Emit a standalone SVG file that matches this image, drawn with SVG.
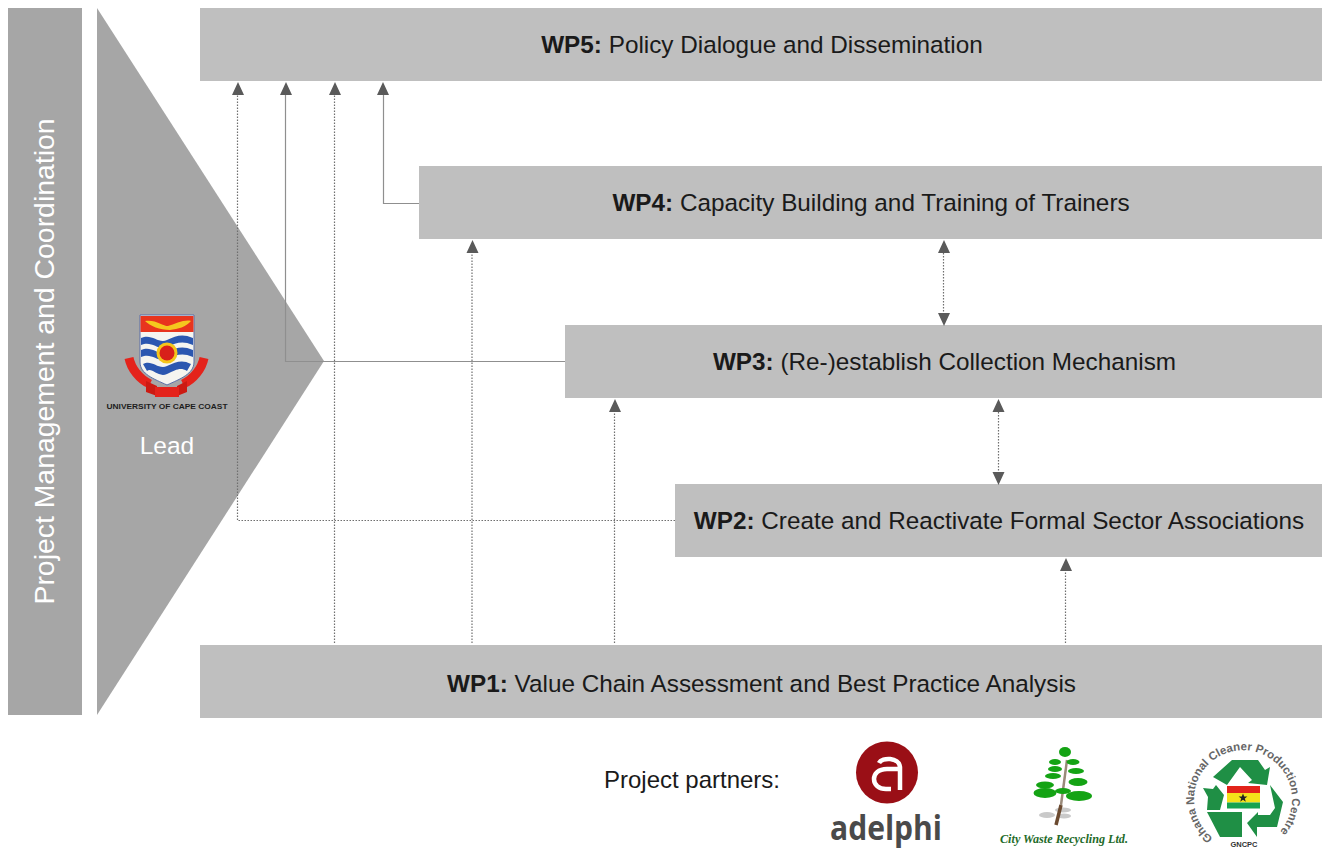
<svg xmlns="http://www.w3.org/2000/svg" width="1323" height="848" viewBox="0 0 1323 848">
<style>
text{font-family:"Liberation Sans",Arial,sans-serif}
.wp{fill:#bfbfbf}
.lbl{font-size:24.300px;fill:#1a1a1a;text-anchor:middle}
.lbl tspan{font-weight:bold}
.c{fill:none;stroke:#8f8f8f;stroke-width:1.200}
.d{fill:none;stroke:#6f6f6f;stroke-width:1.200;stroke-dasharray:1.500 1.500}
</style>
<g id="pm"><rect x="8" y="8" width="74" height="707" fill="#a6a6a6"/><text transform="translate(54,361.500) rotate(-90)" text-anchor="middle" font-size="28.400" fill="#fff">Project Management and Coordination</text></g>
<g id="lead"><path d="M97 8L324 361L97 715Z" fill="#a6a6a6"/>
<g id="ucc-logo">
<path d="M129 358C131 368 139 379 150 384" fill="none" stroke="#e4231b" stroke-width="9"/>
<path d="M204 358C202 368 194 379 183 384" fill="none" stroke="#e4231b" stroke-width="9"/>
<path d="M146 381L157 386V396L146 392ZM187 381L177 386V396L187 392Z" fill="#cc1a12"/>
<rect x="155" y="387" width="24" height="10" fill="#e4231b"/>
<path d="M140 315H194V362C194 374 180 379 167 385C154 379 140 374 140 362Z" fill="#f5f5f0" stroke="#5a6fa8"/>
<rect x="140.500" y="316" width="53" height="16" fill="#e8351e"/><path d="M145 321C155 319 163 326 168 326C175 324 185 319 191 321C186 327 178 329 170 330C160 330 150 326 145 321Z" fill="#f5c81e"/>
<path d="M141 338C152 333 158 344 167 340C176 336 182 333 193 338V345C182 340 176 343 167 347C158 351 152 340 141 345Z" fill="#2b57b0"/>
<path d="M141 350C152 345 158 356 167 352C176 348 182 345 193 350V357C182 352 176 355 167 359C158 363 152 352 141 357Z" fill="#2b57b0"/>
<path d="M143 364C152 359 158 370 167 366C176 362 182 359 191 364L187 371C180 367 176 370 167 374C158 378 152 367 147 371Z" fill="#2b57b0"/>
<circle cx="167" cy="353" r="10.500" fill="#f3c51a"/><circle cx="167" cy="353" r="7.500" fill="#d8201a"/>
<text x="167" y="409" text-anchor="middle" font-size="8" font-weight="bold" fill="#1d1d1d" textLength="121" lengthAdjust="spacingAndGlyphs">UNIVERSITY OF CAPE COAST</text></g>
<text x="167" y="454" text-anchor="middle" font-size="24.500" fill="#fff">Lead</text></g>
<g id="wp5"><rect class="wp" x="200" y="8" width="1122" height="73"/><text class="lbl" x="762" y="53"><tspan>WP5:</tspan> Policy Dialogue and Dissemination</text></g>
<g id="wp4"><rect class="wp" x="419" y="166" width="903" height="73"/><text class="lbl" x="871" y="211"><tspan>WP4:</tspan> Capacity Building and Training of Trainers</text></g>
<g id="wp3"><rect class="wp" x="565" y="325" width="757" height="73"/><text class="lbl" x="944.500" y="370"><tspan>WP3:</tspan> (Re-)establish Collection Mechanism</text></g>
<g id="wp2"><rect class="wp" x="675" y="484" width="647" height="73"/><text class="lbl" x="999" y="529"><tspan>WP2:</tspan> Create and Reactivate Formal Sector Associations</text></g>
<g id="wp1"><rect class="wp" x="200" y="645" width="1122" height="73"/><text class="lbl" x="761.500" y="692"><tspan>WP1:</tspan> Value Chain Assessment and Best Practice Analysis</text></g>
<g id="connectors">
<path class="d" d="M675 520.500H237.500V95"/>
<path class="c" d="M565 361.500H285.500V95"/>
<path class="d" d="M334.500 643V95"/>
<path class="c" d="M419 203.500H383.500V95"/>
<path class="d" d="M472 643V253"/>
<path class="d" d="M614.500 643V412"/>
<path class="d" d="M1065.500 643V571"/>
<path class="d" d="M943.500 253V312"/>
<path class="d" d="M998.500 412V471"/>
<path fill="#5a5a5a" d="M238 82L244 95H232ZM286 82L292 95H280ZM335 82L341 95H329ZM383 82L389 95H377ZM472.500 240L478.500 253H466.500ZM615 399L621 412H609ZM1066 558L1072 571H1060ZM944 240L950 253H938ZM944 326L950 313H938ZM998.500 399L1004.500 412H992.500ZM998.500 485L1004.500 472H992.500Z"/>
</g>
<g id="partners"><text x="692" y="788" text-anchor="middle" font-size="24" fill="#1a1a1a">Project partners:</text></g>
<g id="adelphi-logo"><circle cx="887" cy="772.500" r="31" fill="#9a0f16"/>
<path d="M879 763C882 757 899 757 900 767V790M899 769H887C878 769 874 774 874 779C874 785 879 789 886 789H891" fill="none" stroke="#fff" stroke-width="4.500"/>
<text x="886" y="840" text-anchor="middle" font-size="34" font-weight="bold" fill="#4a4a4a" style="font-family:'Open Sans',sans-serif" textLength="112" lengthAdjust="spacingAndGlyphs">adelphi</text></g>
<g id="cwr-logo">
<g fill="#c9c9c9"><ellipse cx="1047" cy="815" rx="8" ry="3"/><ellipse cx="1063" cy="810" rx="8" ry="2.500"/><ellipse cx="1064" cy="816" rx="7" ry="2.500"/></g>
<path d="M1056 825L1061 805" fill="none" stroke="#6b4a30" stroke-width="3.500"/>
<path d="M1061 805L1067 760" fill="none" stroke="#9a8a7a" stroke-width="2.500"/>
<g fill="#14a314"><ellipse cx="1065" cy="752" rx="6" ry="5"/><ellipse cx="1055" cy="762" rx="6" ry="3"/><ellipse cx="1073" cy="762" rx="6.500" ry="3"/><ellipse cx="1055" cy="769" rx="7" ry="3"/><ellipse cx="1076" cy="771" rx="8" ry="3"/><ellipse cx="1053" cy="776" rx="8" ry="3"/><ellipse cx="1078" cy="782" rx="9.500" ry="4"/><ellipse cx="1045" cy="785" rx="9" ry="3.500"/><ellipse cx="1063" cy="791" rx="8" ry="3"/><ellipse cx="1045" cy="793" rx="11.500" ry="5"/><ellipse cx="1079" cy="796" rx="13" ry="5"/></g>
<text x="1064" y="843" text-anchor="middle" font-size="11.500" font-weight="bold" font-style="italic" fill="#1f6b2a" style="font-family:'Liberation Serif',serif" textLength="128" lengthAdjust="spacingAndGlyphs">City Waste Recycling Ltd.</text></g>
<g id="gncpc-logo">
<g fill="#1f8f45"><path d="M1213 777L1232 760H1258L1265 770L1270 767L1267 785L1248 783L1252 780L1240 767L1227 785Z"/><path d="M1203 788L1213 789L1216 785L1224 795L1220 810H1207L1208 797Z"/><path d="M1207 812H1242V837H1220Z"/><path d="M1270 785L1283 802L1277 827H1257V837L1247 823L1258 812V815H1270L1275 808Z"/></g>
<rect x="1227" y="786" width="33" height="7" fill="#e2231a"/><rect x="1227" y="793" width="33" height="9.500" fill="#f4e31a"/><rect x="1227" y="802.500" width="33" height="6" fill="#16a350"/>
<path d="M1243 793.500l1.200 3h3.200l-2.600 2 1 3.200-2.800-2-2.800 2 1-3.200-2.600-2h3.200z" fill="#222"/>
<path id="gnc" d="M1213 838A49 49 0 1 1 1273 838" fill="none"/>
<text font-size="11.500" fill="#666" font-weight="bold"><textPath href="#gnc">Ghana National Cleaner Production Centre</textPath></text>
<text x="1244" y="847" text-anchor="middle" font-size="7.500" font-weight="bold" fill="#333">GNCPC</text></g>
</svg>
